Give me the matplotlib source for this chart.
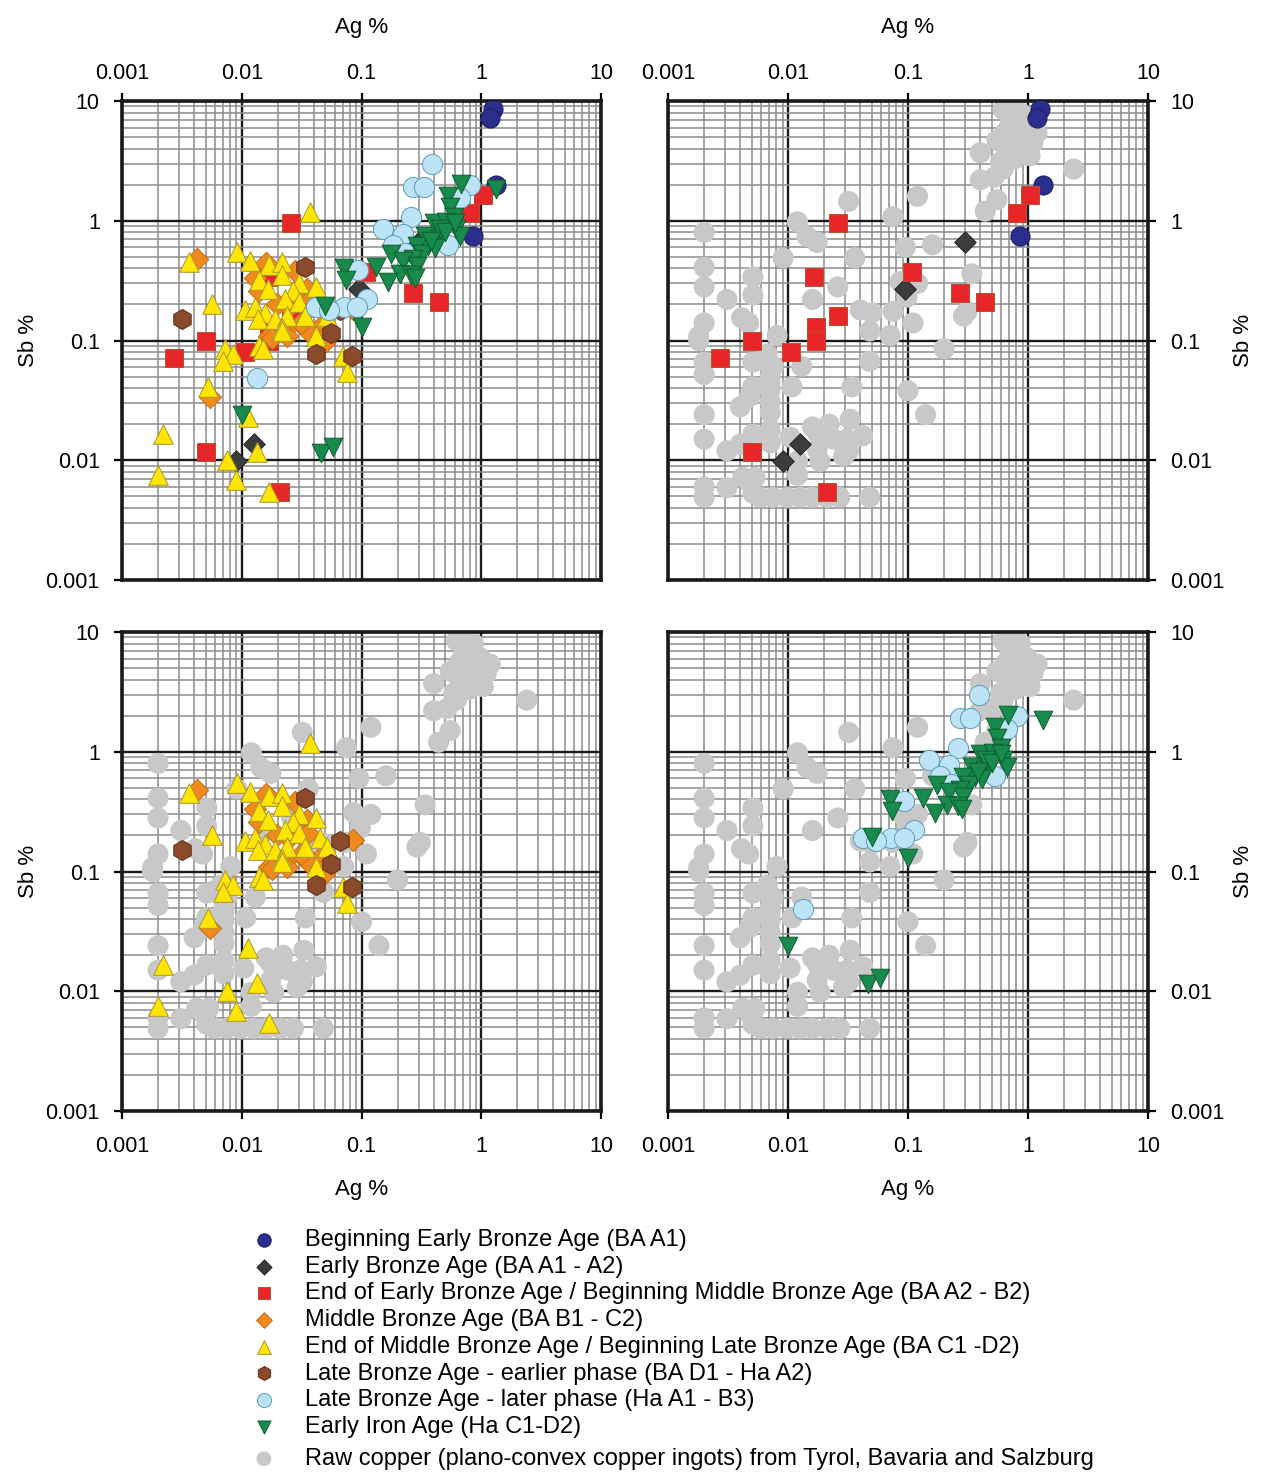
import numpy as np
import matplotlib.pyplot as plt
from matplotlib.ticker import LogLocator, NullFormatter

plt.rcParams['font.family'] = ['Liberation Sans', 'DejaVu Sans']

# --- values (Ag %, Sb %) ---
ba_a1_ag = [1.26, 1.19, 1.33, 0.86]
ba_a1_sb = [8.5, 7.2, 2.0, 0.74]

ba_a1a2_ag = [0.30, 0.095, 0.0126, 0.009]
ba_a1a2_sb = [0.66, 0.27, 0.0136, 0.0098]

ba_a2b2_ag = [0.026, 0.0165, 0.108, 0.27, 0.44, 0.026, 0.017, 0.017, 0.005,
              0.0027, 0.0106, 0.005, 0.021, 1.04, 0.81]
ba_a2b2_sb = [0.96, 0.34, 0.37, 0.25, 0.21, 0.16, 0.13, 0.10, 0.10,
              0.072, 0.08, 0.0117, 0.0054, 1.65, 1.17]

ba_b1c2_ag = [0.0042, 0.016, 0.013, 0.014, 0.0196, 0.028, 0.035, 0.036, 0.085,
              0.017, 0.024, 0.035, 0.045, 0.051, 0.018, 0.024, 0.036, 0.049,
              0.0054, 0.025, 0.031]
ba_b1c2_sb = [0.48, 0.44, 0.33, 0.26, 0.20, 0.38, 0.27, 0.21, 0.185,
              0.11, 0.126, 0.126, 0.13, 0.11, 0.104, 0.108, 0.119, 0.095,
              0.034, 0.19, 0.14]

ba_c1d2_ag = [0.037, 0.0036, 0.0091, 0.0117, 0.017, 0.0216, 0.0216, 0.014, 0.030,
              0.042, 0.0165, 0.027, 0.023, 0.030, 0.045, 0.0056, 0.0106, 0.0128,
              0.0156, 0.0136, 0.0188, 0.024, 0.034, 0.052, 0.0216, 0.042, 0.0216,
              0.0072, 0.0085, 0.007, 0.014, 0.015, 0.070, 0.076, 0.0052, 0.0112,
              0.0022, 0.0075, 0.0133, 0.002, 0.0089, 0.017]
ba_c1d2_sb = [1.19, 0.45, 0.55, 0.46, 0.43, 0.45, 0.355, 0.32, 0.30,
              0.28, 0.27, 0.26, 0.22, 0.21, 0.19, 0.20, 0.18, 0.19,
              0.17, 0.15, 0.15, 0.16, 0.16, 0.16, 0.128, 0.108, 0.119,
              0.085, 0.077, 0.067, 0.09, 0.085, 0.074, 0.055, 0.041, 0.023,
              0.0165, 0.010, 0.0117, 0.0075, 0.0068, 0.0054]

lba_early_ag = [0.034, 0.0032, 0.066, 0.056, 0.042, 0.083]
lba_early_sb = [0.41, 0.15, 0.18, 0.115, 0.077, 0.074]

lba_late_ag = [0.39, 0.27, 0.33, 0.81, 0.67, 0.26, 0.15, 0.22, 0.185, 0.53,
               0.23, 0.093, 0.112, 0.072, 0.042, 0.054, 0.092, 0.0133]
lba_late_sb = [3.0, 1.9, 1.9, 2.0, 1.55, 1.08, 0.85, 0.77, 0.63, 0.63,
               0.54, 0.39, 0.22, 0.19, 0.19, 0.18, 0.19, 0.049]

eia_ag = [0.68, 1.33, 0.53, 0.55, 0.59, 0.40, 0.51, 0.62, 0.67, 0.34,
          0.44, 0.36, 0.29, 0.41, 0.32, 0.27, 0.175, 0.22, 0.29, 0.133,
          0.071, 0.21, 0.26, 0.28, 0.168, 0.074, 0.050, 0.10, 0.010, 0.046,
          0.058, 0.45, 0.50, 0.60, 0.38]
eia_sb = [2.04, 1.85, 1.6, 1.3, 1.08, 0.95, 0.98, 0.86, 0.75, 0.75,
          0.71, 0.62, 0.62, 0.59, 0.53, 0.48, 0.53, 0.46, 0.42, 0.41,
          0.40, 0.36, 0.35, 0.33, 0.31, 0.32, 0.195, 0.13, 0.024, 0.0114,
          0.013, 0.85, 0.80, 0.95, 0.68]

raw_ag = [0.75, 0.62, 0.86, 0.71, 0.98, 1.19, 0.55, 0.75, 1.1, 0.67, 0.91, 1.04,
          0.40, 0.59, 0.62, 2.4, 0.40, 0.55, 0.44, 0.12, 0.032, 0.075, 0.012,
          0.002, 0.0144, 0.0175, 0.16, 0.095, 0.0091, 0.036, 0.002, 0.0051,
          0.002, 0.026, 0.34, 0.086, 0.12, 0.0051, 0.0031, 0.016, 0.098, 0.31,
          0.29, 0.002, 0.0041, 0.0047, 0.040, 0.050, 0.075, 0.048, 0.11, 0.071,
          0.0081, 0.0018, 0.0018, 0.20, 0.0067, 0.002, 0.0051, 0.0075, 0.013,
          0.002, 0.048, 0.0051, 0.0071, 0.0108, 0.034, 0.1, 0.0048, 0.004,
          0.0071, 0.0071, 0.002, 0.14, 0.033, 0.016, 0.022, 0.0071, 0.0051,
          0.0104, 0.042, 0.002, 0.0175, 0.024, 0.031, 0.0071, 0.0031, 0.004,
          0.0175, 0.032, 0.029, 0.0185, 0.012, 0.012, 0.0042, 0.0053, 0.002,
          0.0031, 0.002, 0.0051, 0.0059, 0.0075, 0.0098, 0.0126, 0.016, 0.021,
          0.027, 0.048, 0.0048, 0.65, 0.85, 0.9, 0.78, 0.52, 0.0071, 0.0071,
          0.0068]
raw_sb = [9.8, 8.5, 8.0, 6.6, 6.1, 5.4, 4.7, 4.7, 4.5, 3.9, 3.9, 3.5,
          3.7, 3.1, 2.7, 2.7, 2.2, 1.5, 1.2, 1.6, 1.45, 1.08, 0.98,
          0.8, 0.74, 0.66, 0.63, 0.6, 0.49, 0.49, 0.41, 0.34,
          0.28, 0.28, 0.36, 0.31, 0.30, 0.24, 0.22, 0.22, 0.23, 0.175,
          0.16, 0.14, 0.155, 0.14, 0.18, 0.17, 0.175, 0.12, 0.14, 0.11,
          0.11, 0.108, 0.10, 0.085, 0.077, 0.066, 0.066, 0.061, 0.061,
          0.052, 0.067, 0.041, 0.039, 0.041, 0.041, 0.038, 0.034, 0.028,
          0.031, 0.025, 0.024, 0.024, 0.022, 0.019, 0.020, 0.018, 0.0165,
          0.0156, 0.016, 0.015, 0.017, 0.015, 0.015, 0.014, 0.012, 0.0136,
          0.0124, 0.012, 0.0108, 0.0098, 0.0098, 0.0075, 0.0072, 0.0072, 0.006,
          0.0059, 0.0049, 0.0053, 0.0049, 0.0049, 0.0049, 0.0049, 0.0049, 0.0049,
          0.0049, 0.0049, 0.0065, 5.5, 5.5, 4.6, 3.3, 2.3, 0.05, 0.045,
          0.065]

labels = ['Beginning Early Bronze Age (BA A1)',
          'Early Bronze Age (BA A1 - A2)',
          'End of Early Bronze Age / Beginning Middle Bronze Age (BA A2 - B2)',
          'Middle Bronze Age (BA B1 - C2)',
          'End of Middle Bronze Age / Beginning Late Bronze Age (BA C1 -D2)',
          'Late Bronze Age - earlier phase (BA D1 - Ha A2)',
          'Late Bronze Age - later phase (Ha A1 - B3)',
          'Early Iron Age (Ha C1-D2)',
          'Raw copper (plano-convex copper ingots) from Tyrol, Bavaria and Salzburg']

# style per group: marker, face, edge, size
styles = [('o', '#2a2e8c', '#1b1d5e', 190),
          ('D', '#3c3c3c', '#222222', 120),
          ('s', '#e8262a', '#b8502c', 150),
          ('D', '#f08a1c', '#c76a12', 130),
          ('^', '#ffe500', '#a89630', 200),
          ('h', '#8b4a2c', '#5a2e18', 210),
          ('o', '#bde4f6', '#5e9cba', 210),
          ('v', '#178a4c', '#0c5e30', 180),
          ('o', '#c8c8c8', 'none', 230)]

data = [(ba_a1_ag, ba_a1_sb), (ba_a1a2_ag, ba_a1a2_sb), (ba_a2b2_ag, ba_a2b2_sb),
        (ba_b1c2_ag, ba_b1c2_sb), (ba_c1d2_ag, ba_c1d2_sb),
        (lba_early_ag, lba_early_sb), (lba_late_ag, lba_late_sb),
        (eia_ag, eia_sb), (raw_ag, raw_sb)]

# which groups go in each panel (raw copper drawn first)
panels = {'tl': [0, 1, 2, 3, 4, 5, 6, 7],
          'tr': [8, 0, 1, 2],
          'bl': [8, 3, 4, 5],
          'br': [8, 6, 7]}

W, H = 1267, 1472
fig = plt.figure(figsize=(W / 100, H / 100), dpi=100)

def frac(x0, y0, x1, y1):
    return [x0 / W, 1 - y1 / H, (x1 - x0) / W, (y1 - y0) / H]

boxes = {'tl': frac(122, 101, 601, 580), 'tr': frac(668, 101, 1148, 580),
         'bl': frac(122, 632, 601, 1111), 'br': frac(668, 632, 1148, 1111)}

ticks = [0.001, 0.01, 0.1, 1, 10]
tick_labels = ['0.001', '0.01', '0.1', '1', '10']
handles = {}

for key, box in boxes.items():
    ax = fig.add_axes(box)
    ax.set_xscale('log')
    ax.set_yscale('log')
    ax.set_xlim(1e-3, 10)
    ax.set_ylim(1e-3, 10)
    ax.set_xticks(ticks, tick_labels)
    ax.set_yticks(ticks, tick_labels)
    for axis in (ax.xaxis, ax.yaxis):
        axis.set_minor_locator(LogLocator(base=10, subs=np.arange(2, 10), numticks=20))
        axis.set_minor_formatter(NullFormatter())
    ax.grid(which='minor', color='#8c8c8c', lw=1.1)
    ax.grid(which='major', color='#1a1a1a', lw=1.7)
    ax.set_axisbelow(True)
    for sp in ax.spines.values():
        sp.set_linewidth(2.6)
        sp.set_color('#1a1a1a')
    ax.tick_params(which='minor', length=0)
    ax.tick_params(which='major', length=6, width=1.6, labelsize=15.5)

    top = key[0] == 't'
    left = key[1] == 'l'
    if top:
        ax.xaxis.tick_top()
        ax.xaxis.set_label_position('top')
        ax.tick_params(axis='x', pad=6)
        ax.set_xlabel('Ag %', fontsize=16, labelpad=22)
    else:
        ax.tick_params(axis='x', pad=12)
        ax.set_xlabel('Ag %', fontsize=16, labelpad=16)
    if left:
        ax.tick_params(axis='y', pad=10)
        ax.set_ylabel('Sb %', fontsize=16, labelpad=5)
    else:
        ax.yaxis.tick_right()
        ax.yaxis.set_label_position('right')
        ax.tick_params(axis='y', pad=10)
        ax.set_ylabel('Sb %', fontsize=16, labelpad=6)

    for gi in panels[key]:
        m, fc, ec, s = styles[gi]
        xs, ys = data[gi]
        z = 2.5 if gi == 8 else 3 + gi
        sc = ax.scatter(xs, ys, marker=m, s=s, facecolor=fc,
                        edgecolor=ec, linewidths=0.7, zorder=z,
                        label=labels[gi])
        handles.setdefault(gi, sc)

leg_kw = dict(loc='upper left', frameon=False, fontsize=17, labelspacing=0.2,
              handletextpad=0.95, handlelength=1.6, markerscale=0.7,
              borderaxespad=0, borderpad=0)
fig.legend([handles[i] for i in range(8)], labels[:8],
           bbox_to_anchor=(245 / W, 1 - 1229 / H), **leg_kw)
fig.legend([handles[8]], labels[8:],
           bbox_to_anchor=(245 / W, 1 - 1448 / H), **leg_kw)

fig.savefig('out.png', dpi=100)
